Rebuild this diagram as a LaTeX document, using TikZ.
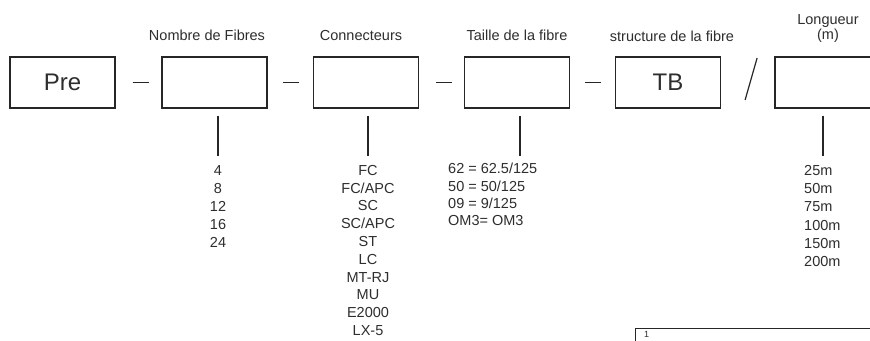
\documentclass[tikz,border=0pt]{standalone}
\usepackage{fontspec}
\setmainfont{Liberation Sans}
\usetikzlibrary{positioning,calc}
\definecolor{codeInk}{HTML}{262626}
\definecolor{codeText}{HTML}{2E2E2E}
\tikzset{
  fieldBox/.style={draw=codeInk, line width=1.2pt, minimum width=105pt, minimum height=51pt, inner sep=0pt, text=codeText, font=\fontsize{24}{28}\selectfont},
  fieldLabel/.style={font=\fontsize{14.5}{15}\selectfont, text=codeText, anchor=base, align=center},
  optList/.style={font=\fontsize{14.5}{18}\selectfont, text=codeText, anchor=north, inner sep=0pt, align=center},
  sepLine/.style={line width=1.2pt, draw=codeInk}
}
\begin{document}
\begin{tikzpicture}[x=1pt,y=-1pt]
  \clip (0,0) rectangle (870,340);
  \fill[white] (0,0) rectangle (870,340);
  % code fields
  \node[fieldBox] (pre) at (62.5,82.5) {Pre};
  \node[fieldBox] (nbf) at (214.5,82.5) {};
  \node[fieldBox] (con) at (366,82.5) {};
  \node[fieldBox] (tfb) at (517,82.5) {};
  \node[fieldBox] (tb) at (668,82.5) {TB};
  \node[fieldBox] (lng) at (827.5,82.5) {};
  % field titles
  \node[fieldLabel] (nbfT) at (207,40) {Nombre de Fibres};
  \node[fieldLabel] (conT) at (361,40) {Connecteurs};
  \node[fieldLabel] (tfbT) at (517,40) {Taille de la fibre};
  \node[fieldLabel] (tbT) at (672,41) {structure de la fibre};
  \node[fieldLabel] (lngT) at (828,39) {Longueur\\(m)};
  % separators
  \draw[sepLine] ($(pre.east)+(17,0)$) -- ($(nbf.west)+(-12,0)$);
  \draw[sepLine] ($(nbf.east)+(15,0)$) -- ($(con.west)+(-14,0)$);
  \draw[sepLine] ($(con.east)+(17,0)$) -- ($(tfb.west)+(-12,0)$);
  \draw[sepLine] ($(tfb.east)+(15,0)$) -- ($(tb.west)+(-14,0)$);
  \draw[sepLine] ($(tb.east)+(24,17.5)$) -- ($(tb.east)+(36,-24.5)$);
  % option lists
  \draw[sepLine] ($(nbf.south)+(3.5,7)$) -- ++(0,40);
  \node[optList, font=\fontsize{14.5}{18.2}\selectfont] (nbfL) at (218,165) {4\\8\\12\\16\\24};
  \draw[sepLine] ($(con.south)+(2,7)$) -- ++(0,40);
  \node[optList, font=\fontsize{14.5}{17.8}\selectfont] (conL) at (368,165) {FC\\FC/APC\\SC\\SC/APC\\ST\\LC\\MT-RJ\\MU\\E2000\\LX-5};
  \draw[sepLine] ($(tfb.south)+(3,7)$) -- ++(0,40);
  \node[optList, anchor=north west, align=left, font=\fontsize{14.5}{17.4}\selectfont] (tfbL) at (448,163) {62 = 62.5/125\\50 = 50/125\\09 = 9/125\\OM3= OM3};
  \draw[sepLine] ($(lng.south)+(-4.5,7)$) -- ++(0,40);
  \node[optList, anchor=north west, align=left, font=\fontsize{14.5}{18.3}\selectfont] (lngL) at (804,165) {25m\\50m\\75m\\100m\\150m\\200m};
  % footnote box, cut by the page
  \draw[line width=1pt, draw=codeInk] (635,350) |- (880,328);
  \node[font=\fontsize{9}{9}\selectfont, text=codeText, anchor=north west, inner sep=0pt] (fn) at (644,331) {1};
\end{tikzpicture}
\end{document}
